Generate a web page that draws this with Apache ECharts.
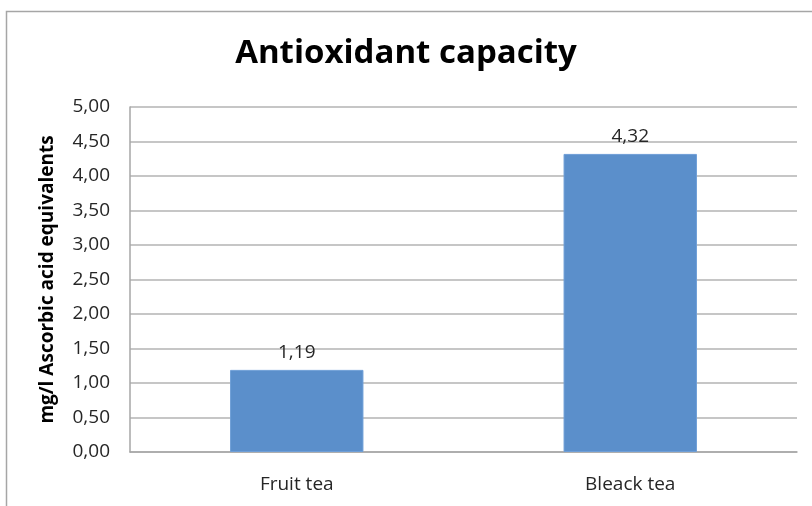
<!DOCTYPE html>
<html>
<head>
<meta charset="utf-8">
<script src="https://cdn.jsdelivr.net/npm/echarts@6/dist/echarts.min.js"></script>
<style>
html,body{margin:0;padding:0;background:#fff;}
#chart{width:812px;height:506px;}
</style>
</head>
<body>
<div id="chart"></div>
<script>
const categories = ["Fruit tea", "Bleack tea"];
const values = [1.19, 4.32];
const yTicks = {min: 0, max: 5, interval: 0.5};
const titleText = "Antioxidant capacity";
const yAxisName = "mg/l Ascorbic acid equivalents";

const fmt = v => Number(v).toFixed(2).replace('.', ',');
const chart = echarts.init(document.getElementById('chart'));
chart.setOption({
  animation: false,
  graphic: [{
    type: 'rect', left: 4, top: 9, shape: {width: 900, height: 600},
    style: {fill: 'none', stroke: '#a6a6a6', lineWidth: 1.5}, silent: true
  }],
  title: {
    text: titleText, left: 'center', top: 37, padding: [0, 0, 0, 10],
    textStyle: {fontFamily: 'Open Sans', fontWeight: 'bold', fontSize: 33, color: '#000'}
  },
  grid: {left: 130, right: 15, top: 107, bottom: 54, containLabel: false},
  xAxis: {
    type: 'category', data: categories,
    axisLine: {lineStyle: {color: '#a6a6a6', width: 1.5}},
    axisTick: {show: false},
    axisLabel: {fontFamily: 'Open Sans', fontSize: 19, color: '#262626', margin: 23}
  },
  yAxis: {
    type: 'value', min: yTicks.min, max: yTicks.max, interval: yTicks.interval,
    name: yAxisName, nameLocation: 'middle', nameGap: 73,
    nameTextStyle: {fontFamily: 'Open Sans', fontWeight: 'bold', fontSize: 19, color: '#000'},
    axisLine: {show: true, lineStyle: {color: '#a6a6a6', width: 1.5}},
    axisTick: {show: false},
    splitLine: {lineStyle: {color: '#b3b3b3', width: 1.5}},
    axisLabel: {fontFamily: 'Open Sans', fontSize: 19, color: '#262626', margin: 20, formatter: fmt}
  },
  series: [{
    type: 'bar', data: values, barWidth: '40%',
    itemStyle: {color: '#5b8fcb', borderColor: '#6f9fd8', borderWidth: 1},
    label: {show: true, position: 'top', distance: 8, fontFamily: 'Open Sans', fontSize: 19, color: '#262626',
      formatter: p => fmt(p.value)}
  }]
});
</script>
</body>
</html>
